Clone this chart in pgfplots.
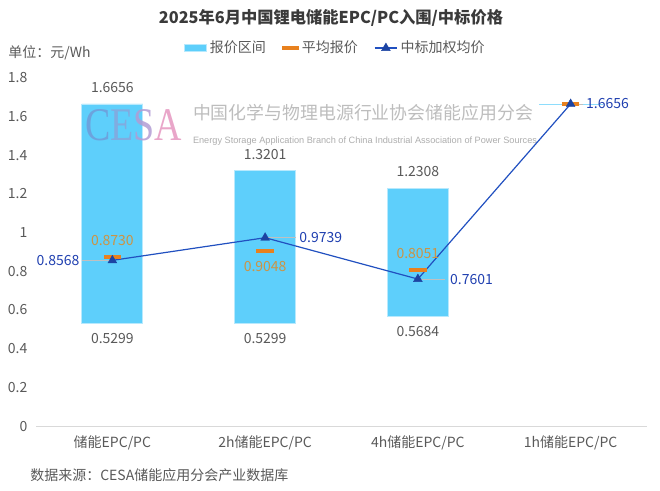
\documentclass[border=0pt]{standalone}
\usepackage{fontspec}
\setmainfont{Noto Sans CJK SC}
\newfontfamily\wmserif{Liberation Serif}
\newfontfamily\wmsans{Liberation Sans}
\usepackage{graphicx}
\usepackage{pgfplots}
\usepackage{pgfplotstable}
\pgfplotsset{compat=1.18}

\definecolor{barcyan}{HTML}{5ECFFB}
\definecolor{avgorange}{HTML}{E8811E}
\definecolor{avgtext}{HTML}{CC9444}
\definecolor{wblue}{HTML}{2150C0}
\definecolor{wtext}{HTML}{2040B0}
\definecolor{txtgray}{HTML}{595959}
\definecolor{titlegray}{HTML}{3A3A3A}
\definecolor{leadgray}{HTML}{C0C0C0}

% price ranges, average and weighted winning price (yuan/Wh)
\pgfplotstableread{
x low    high   avg    wavg   wdx   wem  wep
0 0.5299 1.6656 0.8730 0.8568 -24.5 0.20 0
1 0.5299 1.3201 0.9048 0.9739 25.5  0    0.20
2 0.5684 1.2308 0.8051 0.7601 24    0    0.18
3 1.6656 1.6656 1.6656 1.6656 11.5  0    0.08
}\prices

\newcommand{\lbl}{\fontsize{10.5pt}{12pt}\selectfont}

\begin{document}
\begin{tikzpicture}[x=0.75pt, y=-0.75pt]
\path[use as bounding box] (0,0) rectangle (660,490);

\begin{axis}[
    at={(27pt,-319.5pt)}, anchor=south west,
    scale only axis,
    width=458.25pt, height=261pt,
    xmin=-0.5, xmax=3.5,
    ymin=0, ymax=1.8,
    clip=false,
    xtick={0,1,2,3},
    xticklabels={储能EPC/PC, 2h储能EPC/PC, 4h储能EPC/PC, 1h储能EPC/PC},
    ytick={0,0.2,0.4,0.6,0.8,1,1.2,1.4,1.6,1.8},
    /pgf/number format/assume math mode=true,
    axis x line*=bottom, axis y line*=left,
    x axis line style={draw=black!15, -},
    y axis line style={draw=none},
    major tick length=0pt,
    ticklabel style={font=\lbl, text=txtgray},
    xticklabel style={yshift=-4pt},
    yticklabel style={xshift=-3pt},
    legend style={at={(0.49,1.086)}, anchor=center, draw=none, fill=none,
        legend columns=3, font=\lbl, text=txtgray,
        /tikz/every even column/.append style={column sep=10pt}},
]

% range bars: invisible lower part, then the visible range
\addplot[ybar stacked, bar width=45.75pt, draw=none, fill=none, forget plot]
    table[x=x, y=low] {\prices};
\addplot[ybar stacked, bar width=45.75pt, fill=barcyan, draw=barcyan!45, line width=0.7pt, area legend]
    table[x=x, y expr=\thisrow{high}-\thisrow{low}] {\prices};
\addlegendentry{报价区间}

% zero-height range of the last category, shown as a thin line
\addplot[draw=none, stack plots=false, forget plot, skip coords between index={0}{3},
    error bars/.cd, x dir=both, x fixed=0.21, error mark=none,
    error bar style={draw=barcyan!70, line width=0.7pt}]
    table[x=x, y=high] {\prices};

% watermark
\node[anchor=base west, opacity=0.85, inner sep=0pt] at (axis cs:-0.18,1.479)
    {\resizebox{72.75pt}{23.25pt}{\wmserif\textcolor[HTML]{6F9CD9}{C}\textcolor[HTML]{86A6DC}{E}\textcolor[HTML]{B29CD4}{S}\textcolor[HTML]{E596C0}{A}}};
\node[inner sep=0pt, text=black!26] at (axis cs:1.641,1.619)
    {\resizebox{255pt}{!}{中国化学与物理电源行业协会储能应用分会}};
\node[inner sep=0pt, text=black!32] at (axis cs:1.654,1.476)
    {\resizebox{258pt}{!}{\wmsans Energy Storage Application Branch of China Industrial Association of Power Sources}};

% bar end labels
\addplot[draw=none, stack plots=false, forget plot, skip coords between index={3}{4},
    nodes near coords, point meta=explicit symbolic,
    nodes near coords style={font=\lbl, text=txtgray, anchor=south, yshift=5pt}]
    table[x=x, y=high, meta=high] {\prices};
\addplot[draw=none, stack plots=false, forget plot, skip coords between index={3}{4},
    nodes near coords, point meta=explicit symbolic,
    nodes near coords style={font=\lbl, text=txtgray, anchor=north, yshift=-4pt}]
    table[x=x, y=low, meta=low] {\prices};

% average quote
\addplot[stack plots=false, only marks, mark=-, mark size=6.5pt,
    mark options={line width=3pt, draw=avgorange}]
    table[x=x, y=avg] {\prices};
\addlegendentry{平均报价}
\addplot[draw=none, stack plots=false, forget plot,
    skip coords between index={1}{2}, skip coords between index={3}{4},
    nodes near coords, point meta=explicit symbolic,
    nodes near coords style={font=\lbl, text=avgtext, anchor=south, yshift=5pt}]
    table[x=x, y=avg, meta=avg] {\prices};
\addplot[draw=none, stack plots=false, forget plot,
    skip coords between index={0}{1}, skip coords between index={2}{4},
    nodes near coords, point meta=explicit symbolic,
    nodes near coords style={font=\lbl, text=avgtext, anchor=north, yshift=-4pt}]
    table[x=x, y=avg, meta=avg] {\prices};

% leader lines for the weighted price labels
\addplot[draw=none, stack plots=false, forget plot,
    error bars/.cd, x dir=both, x explicit, error mark=none,
    error bar style={draw=leadgray, line width=0.6pt}]
    table[x=x, y=wavg, x error plus=wep, x error minus=wem] {\prices};

% weighted winning price
\addplot[stack plots=false, wblue, line width=0.9pt, mark=triangle*, mark size=3.8pt,
    mark options={fill=wblue!85!black, draw=wblue!85!black, line width=0.3pt}]
    table[x=x, y=wavg] {\prices};
\addlegendentry{中标加权均价}
\addplot[draw=none, stack plots=false, forget plot,
    skip coords between index={1}{4},
    nodes near coords, point meta=explicit symbolic,
    nodes near coords style={font=\lbl, text=wtext, anchor=east, inner sep=0pt, xshift=-24.5pt}]
    table[x=x, y=wavg, meta=wavg] {\prices};
\addplot[draw=none, stack plots=false, forget plot,
    skip coords between index={0}{1},
    nodes near coords, point meta=explicit symbolic,
    visualization depends on={\thisrow{wdx} \as \wdx},
    nodes near coords style={font=\lbl, text=wtext, anchor=west, inner sep=0pt, xshift=\wdx pt}]
    table[x=x, y=wavg, meta=wavg] {\prices};
\end{axis}

\node[font=\bfseries\fontsize{12.2pt}{14pt}\selectfont, text=titlegray] at (331,18)
    {2025年6月中国锂电储能EPC/PC入围/中标价格};
\node[anchor=west, font=\lbl, text=txtgray, inner sep=0pt] at (8,53) {单位：元/Wh};
\node[anchor=west, font=\lbl, text=txtgray, inner sep=0pt] at (30,475)
    {数据来源：CESA储能应用分会产业数据库};
\end{tikzpicture}
\end{document}
